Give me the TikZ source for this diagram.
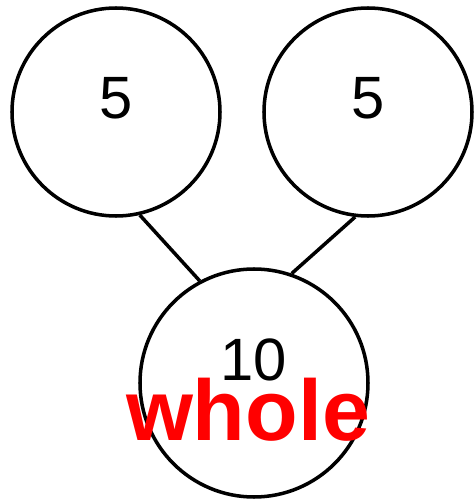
\documentclass[tikz,border=0pt]{standalone}
\usepackage{fontspec}
\setmainfont{Liberation Sans}
\begin{document}
\begin{tikzpicture}[
    x=1cm,
    y=1cm,
    part/.style={draw=black, line width=2pt, circle, inner sep=0pt,
        minimum size=4.16cm, font=\fontsize{34}{40}\selectfont},
    sum/.style={part, minimum size=4.56cm},
    link/.style={draw=black, line width=2pt},
    tag/.style={text=red, font=\fontsize{49}{56}\selectfont\bfseries}
]
\path[use as bounding box] (0,0) rectangle (9.48,9.98);

% The two parts and the whole they make.
\node[part, text depth=0.56cm] (left) at (2.32,7.74) {5};
\node[part, text depth=0.56cm] (right) at (7.36,7.74) {5};
\node[sum, text depth=0.92cm] (bottom) at (5.08,2.32) {10};

\draw[link] (left.-77) -- (bottom.118);
\draw[link] (right.-97) -- (bottom.71);

\node[tag, anchor=base] (whole) at (4.96,1.18) {whole};
\end{tikzpicture}
\end{document}
